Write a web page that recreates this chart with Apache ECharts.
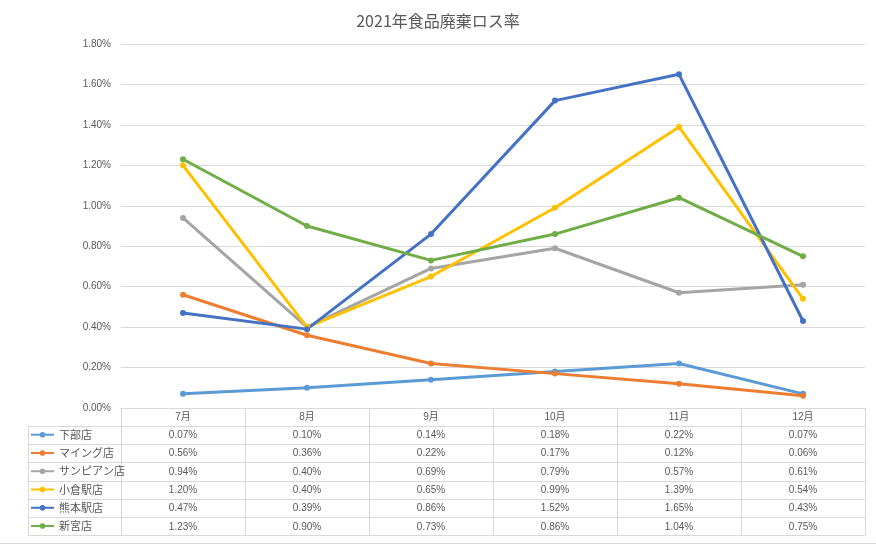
<!DOCTYPE html>
<html>
<head>
<meta charset="utf-8">
<script src="https://cdn.jsdelivr.net/npm/echarts@6/dist/echarts.min.js"></script>
<style>html,body{margin:0;padding:0;background:#fff}#c{width:876px;height:544px}</style>
</head>
<body>
<div id="c"></div>
<script>
const titleText = '2021年食品廃棄ロス率';
const months = ['7月', '8月', '9月', '10月', '11月', '12月'];
const storeNames = ['下部店', 'マイング店', 'サンピアン店', '小倉駅店', '熊本駅店', '新宮店'];
const shimobe = [0.07, 0.10, 0.14, 0.18, 0.22, 0.07];
const maing = [0.56, 0.36, 0.22, 0.17, 0.12, 0.06];
const sunpian = [0.94, 0.40, 0.69, 0.79, 0.57, 0.61];
const kokuraEki = [1.20, 0.40, 0.65, 0.99, 1.39, 0.54];
const kumamotoEki = [0.47, 0.39, 0.86, 1.52, 1.65, 0.43];
const shingu = [1.23, 0.90, 0.73, 0.86, 1.04, 0.75];
const yTicks = [0, 0.2, 0.4, 0.6, 0.8, 1.0, 1.2, 1.4, 1.6, 1.8];

const seriesValues = [shimobe, maing, sunpian, kokuraEki, kumamotoEki, shingu];
const colors = ['#5B9BD5', '#ED7D31', '#A5A5A5', '#FFC000', '#4472C4', '#70AD47'];

const textColor = '#595959';
const lineColor = '#D9D9D9';
const numFont = '"Liberation Sans", "Noto Sans CJK JP", sans-serif';

const W = 876, H = 544;
const gridLeft = 121, gridRight = 865, gridTop = 44, gridBottom = 408;
const headerH = 17.7, rowH = 18.27;
const tableLeft = 28;
const tableBottom = gridBottom + headerH + rowH * storeNames.length;

const chart = echarts.init(document.getElementById('c'), null, {renderer: 'canvas'});

const graphics = [];
for (let i = 0; i <= storeNames.length; i++) {
  const y = Math.round(gridBottom + headerH + rowH * i) + 0.5;
  graphics.push({type: 'line', silent: true,
    shape: {x1: tableLeft, y1: y, x2: gridRight, y2: y},
    style: {stroke: lineColor, lineWidth: 1}});
}
graphics.push({type: 'line', silent: true,
  shape: {x1: tableLeft + 0.5, y1: Math.round(gridBottom + headerH) + 0.5, x2: tableLeft + 0.5, y2: Math.round(tableBottom) + 0.5},
  style: {stroke: lineColor, lineWidth: 1}});
graphics.push({type: 'line', silent: true,
  shape: {x1: 0, y1: 543.5, x2: W, y2: 543.5},
  style: {stroke: lineColor, lineWidth: 1}});

const option = {
  backgroundColor: '#fff',
  animation: false,
  color: colors,
  title: {
    text: titleText, left: 'center', top: 8,
    textStyle: {fontSize: 16, fontWeight: 'normal', color: textColor, fontFamily: '"Noto Sans CJK JP", sans-serif'}
  },
  grid: {left: gridLeft, right: W - gridRight, top: gridTop, bottom: H - gridBottom, containLabel: false},
  legend: {
    orient: 'vertical', left: 30, top: gridBottom + headerH + 2, padding: 0,
    itemWidth: 23, itemHeight: 7, itemGap: rowH - 14,
    data: storeNames,
    textStyle: {fontSize: 11, color: textColor, fontFamily: '"Noto Sans CJK JP", sans-serif', lineHeight: 14, height: 14}
  },
  xAxis: {
    type: 'category', data: months, boundaryGap: true,
    axisLine: {show: true, lineStyle: {color: lineColor, width: 1}},
    axisTick: {show: true, length: tableBottom - gridBottom, lineStyle: {color: lineColor, width: 1}},
    axisLabel: {
      margin: 0, interval: 0, color: textColor, fontSize: 10, fontFamily: numFont,
      lineHeight: rowH,
      formatter: function (val, idx) {
        const lines = [val];
        seriesValues.forEach(arr => lines.push(arr[idx].toFixed(2) + '%'));
        return lines.join('\n');
      }
    }
  },
  yAxis: {
    type: 'value', min: yTicks[0], max: yTicks[yTicks.length - 1], interval: 0.2,
    axisLine: {show: false}, axisTick: {show: false},
    splitLine: {lineStyle: {color: lineColor, width: 1}},
    axisLabel: {margin: 10, color: textColor, fontSize: 10, fontFamily: numFont,
      formatter: v => v.toFixed(2) + '%'}
  },
  series: storeNames.map((name, i) => ({
    name: name, type: 'line', data: seriesValues[i],
    symbol: 'circle', symbolSize: 6,
    lineStyle: {width: 3, color: colors[i]},
    itemStyle: {color: colors[i]},
    emphasis: {disabled: true}
  })),
  graphic: graphics
};
chart.setOption(option);
</script>
</body>
</html>
